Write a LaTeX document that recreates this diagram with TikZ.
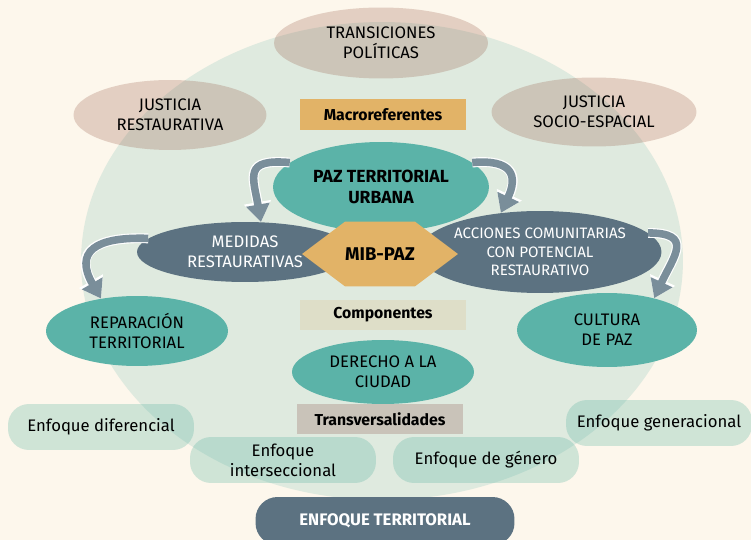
\documentclass[tikz,border=0pt]{standalone}
\usepackage{fontspec}
\setmainfont{Fira Sans}
\usetikzlibrary{arrows.meta,shapes.geometric,shapes.symbols,positioning}
\definecolor{mibCream}{HTML}{FDF7EC}
\definecolor{mibCircle}{HTML}{DFEADF}
\definecolor{mibTeal}{HTML}{5BB3A8}
\definecolor{mibSlate}{HTML}{5C7281}
\definecolor{mibOrange}{HTML}{E2B367}
\definecolor{mibPale}{HTML}{DEDEC8}
\definecolor{mibGrey}{HTML}{C9C3B9}
\definecolor{mibArrow}{HTML}{7A8E9A}
\definecolor{mibRose}{RGB}{150,90,70}
\definecolor{mibMint}{RGB}{90,180,160}

\tikzset{
  macroref/.style={ellipse, fill=mibRose, fill opacity=0.25, text opacity=1, inner sep=0pt, align=center, font=\fontsize{9.5}{11.5}\selectfont},
  core/.style={ellipse, fill=mibTeal, inner sep=0pt, align=center, font=\fontsize{9.5}{11.5}\selectfont},
  slateblob/.style={ellipse, fill=mibSlate, text=white, inner sep=0pt, align=center, font=\fontsize{9.5}{11.5}\selectfont},
  tagbox/.style={rectangle, minimum width=3.34cm, minimum height=0.62cm, inner sep=0pt, font=\fontsize{9}{11}\selectfont\bfseries},
  enfoque/.style={rectangle, rounded corners=0.42cm, fill=mibMint, fill opacity=0.28, text opacity=1, minimum width=3.72cm, minimum height=0.92cm, inner sep=0pt, align=center, font=\fontsize{9.5}{11.5}\selectfont},
  flow/.style={draw=mibArrow, line width=4.3pt, -{Triangle[length=10pt,width=13pt]}, looseness=1.8,
    preaction={draw=white, line width=5.6pt, -{Triangle[length=11.4pt,width=15pt]}}}
}

\begin{document}
\begin{tikzpicture}[x=0.02cm, y=0.02cm]
  \fill[mibCream] (0,0) rectangle (751,-540);
  \clip (0,0) rectangle (751,-540);
  % big background circle
  \fill[mibCircle] (382,-261) ellipse [x radius=6.02cm, y radius=4.78cm];

  % macroreferentes
  \node[macroref, minimum width=4.28cm, minimum height=1.42cm] (transiciones) at (381,-43) {TRANSICIONES\\POLÍTICAS};
  \node[macroref, minimum width=3.86cm, minimum height=1.4cm] (jrest) at (170,-115) {JUSTICIA\\RESTAURATIVA};
  \node[macroref, minimum width=4.1cm, minimum height=1.38cm] (jsocio) at (594,-112) {JUSTICIA\\SOCIO-ESPACIAL};
  \node[tagbox, fill=mibOrange] (macro) at (383,-115) {Macroreferentes};

  % componentes
  \node[slateblob, minimum width=4.32cm, minimum height=1.2cm] (medidas) at (245,-252) {MEDIDAS\\RESTAURATIVAS};
  \node[core, minimum width=4.32cm, minimum height=1.8cm, font=\fontsize{10}{12}\selectfont\bfseries] (paz) at (381,-187) {PAZ TERRITORIAL\\URBANA};
  \node[slateblob, minimum width=4.48cm, minimum height=1.64cm, font=\fontsize{8.6}{10.4}\selectfont] (acciones) at (540,-252) {ACCIONES COMUNITARIAS\\CON POTENCIAL\\RESTAURATIVO};
  \node[signal, signal to=east and west, signal pointer angle=74, fill=mibOrange, minimum width=2.68cm, minimum height=1.3cm, inner sep=0pt, font=\fontsize{10.5}{12}\selectfont\bfseries] (mib) at (380,-254) {MIB-PAZ};

  \node[tagbox, fill=mibPale] (componentes) at (383,-315) {Componentes};
  \node[core, minimum width=3.64cm, minimum height=1.4cm] (reparacion) at (137,-331) {REPARACIÓN\\TERRITORIAL};
  \node[core, minimum width=3.6cm, minimum height=1.48cm] (cultura) at (607,-330) {CULTURA\\DE PAZ};
  \node[core, minimum width=3.64cm, minimum height=1.28cm] (derecho) at (383,-372) {DERECHO A LA\\CIUDAD};

  % transversalidades
  \node[tagbox, fill=mibGrey] (transv) at (380,-419) {Transversalidades};
  \node[enfoque] (diferencial) at (101,-427) {Enfoque diferencial};
  \node[enfoque] (interseccional) at (283,-460) {Enfoque\\interseccional};
  \node[enfoque] (genero) at (486,-460) {Enfoque de género};
  \node[enfoque] (generacional) at (659,-423) {Enfoque generacional};

  \node[rectangle, rounded corners=0.44cm, fill=mibSlate, text=white, minimum width=5.18cm, minimum height=0.96cm, font=\fontsize{9.5}{11.5}\selectfont\bfseries] (territorial) at (385,-521) {ENFOQUE TERRITORIAL};

  % curved arrows
  \draw[flow] (paz.165) to[out=175, in=100] (medidas.62);
  \draw[flow] (paz.15) to[out=5, in=65] (acciones.135);
  \draw[flow] (medidas.172) to[out=178, in=120] (reparacion.138);
  \draw[flow] (acciones.10) to[out=0, in=65] (cultura.34);
\end{tikzpicture}
\end{document}
